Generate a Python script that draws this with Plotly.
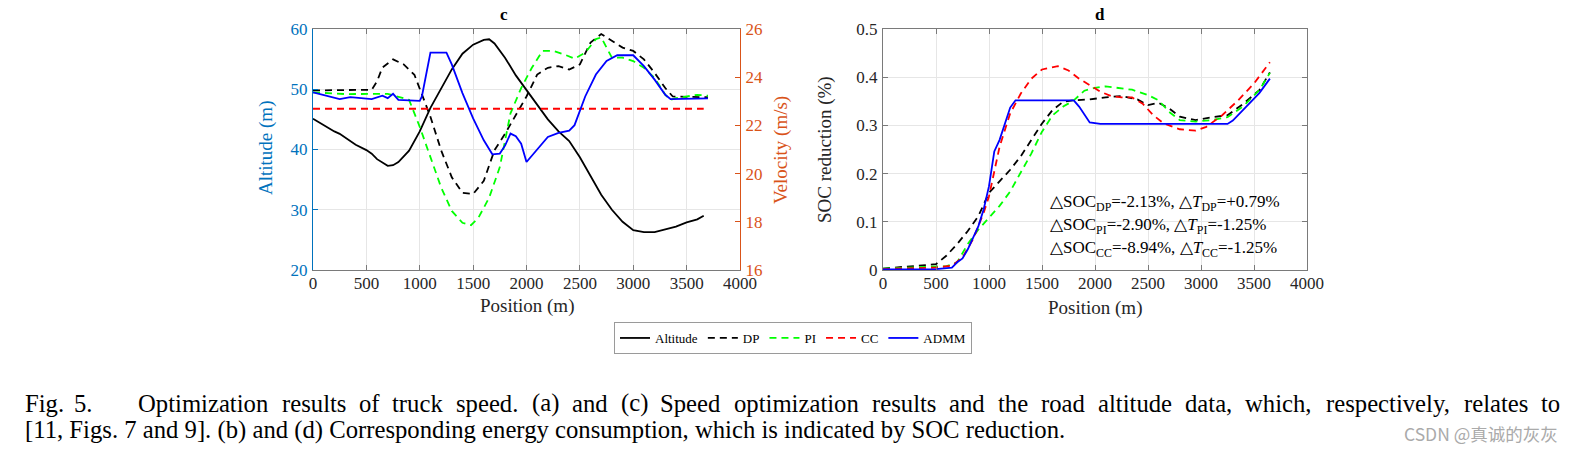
import plotly.graph_objects as go

W, H = 1583, 453

# ---------------- data: panel c ----------------
alt_pos = [0, 100, 200, 250, 300, 400, 500, 550, 600, 650, 700, 750, 800, 900, 1000, 1100, 1200, 1300,
           1400, 1500, 1600, 1650, 1700, 1800, 1900, 2000, 2100, 2200, 2300, 2400, 2500, 2600, 2700,
           2800, 2900, 3000, 3100, 3200, 3300, 3400, 3500, 3600, 3660]
alt_val = [45.1, 44.0, 43.0, 42.6, 42.0, 40.8, 39.9, 39.3, 38.4, 37.8, 37.3, 37.4, 37.9, 39.8, 43.0, 46.9,
           50.2, 53.3, 55.9, 57.4, 58.2, 58.3, 57.6, 55.2, 52.3, 49.8, 47.3, 45.0, 43.0, 41.4, 38.7, 35.5,
           32.5, 30.0, 28.0, 26.6, 26.3, 26.3, 26.7, 27.2, 27.9, 28.4, 29.0]

dp_pos = [0, 550, 600, 650, 750, 850, 950, 1000, 1100, 1200, 1300, 1400, 1500, 1600, 1700, 1800, 1900,
          2000, 2100, 2200, 2300, 2400, 2500, 2600, 2700, 2800, 2900, 3000, 3100, 3200, 3300, 3370, 3700]
dp_vel = [23.45, 23.48, 23.83, 24.4, 24.74, 24.53, 24.1, 23.5, 22.36, 20.97, 19.85, 19.2, 19.15, 19.7,
          20.97, 21.66, 22.43, 23.2, 24.11, 24.39, 24.46, 24.32, 24.53, 25.44, 25.79, 25.51, 25.23, 25.09,
          24.74, 24.18, 23.55, 23.2, 23.17]

pi_pos = [0, 300, 700, 800, 900, 1000, 1100, 1200, 1300, 1400, 1480, 1550, 1650, 1750, 1850, 1950, 2050,
          2150, 2250, 2350, 2450, 2550, 2650, 2700, 2800, 2900, 3000, 3100, 3200, 3300, 3350, 3400, 3600, 3700]
pi_vel = [23.37, 23.3, 23.31, 23.17, 23.06, 21.94, 20.69, 19.43, 18.45, 17.96, 17.86, 18.17, 19.0, 20.27,
          22.5, 23.55, 24.39, 25.09, 25.09, 24.95, 24.77, 25.02, 25.58, 25.65, 24.81, 24.81, 24.67, 24.39,
          23.97, 23.27, 23.06, 23.13, 23.27, 23.23]

cc_pos = [0, 3660]
cc_vel = [22.69, 22.69]

admm_pos = [0, 250, 350, 550, 650, 700, 750, 800, 1000, 1020, 1100, 1250, 1300, 1400, 1500, 1600, 1680,
            1750, 1800, 1850, 1900, 1950, 2000, 2100, 2200, 2300, 2400, 2450, 2550, 2650, 2750, 2850, 3000,
            3100, 3200, 3300, 3350, 3700]
admm_vel = [23.37, 23.09, 23.17, 23.09, 23.23, 23.13, 23.31, 23.06, 23.02, 23.2, 25.02, 25.02, 24.53, 23.34,
            22.29, 21.38, 20.8, 20.83, 21.17, 21.66, 21.55, 21.24, 20.48, 21.0, 21.52, 21.69, 21.78, 22.01,
            23.2, 24.11, 24.67, 24.91, 24.91, 24.46, 23.9, 23.27, 23.09, 23.12]

# ---------------- data: panel d ----------------
soc_admm_pos = [0, 500, 650, 700, 750, 800, 900, 950, 1000, 1050, 1100, 1150, 1200, 1250, 1800, 1850, 1950,
                2050, 3250, 3300, 3450, 3550, 3650]
soc_admm = [0.001, 0.002, 0.005, 0.016, 0.024, 0.043, 0.091, 0.126, 0.174, 0.246, 0.27, 0.304, 0.337, 0.352,
            0.352, 0.339, 0.306, 0.303, 0.303, 0.31, 0.345, 0.367, 0.397]

soc_cc_pos = [0, 500, 650, 750, 850, 950, 1000, 1050, 1100, 1200, 1300, 1400, 1500, 1650, 1750, 1850, 1950,
              2050, 2150, 2250, 2350, 2450, 2550, 2650, 2800, 2950, 3050, 3200, 3350, 3500, 3650]
soc_cc = [0.002, 0.005, 0.009, 0.026, 0.064, 0.119, 0.153, 0.208, 0.256, 0.325, 0.366, 0.397, 0.416, 0.423,
          0.414, 0.397, 0.383, 0.37, 0.361, 0.358, 0.358, 0.345, 0.321, 0.304, 0.292, 0.289, 0.297, 0.321,
          0.352, 0.387, 0.431]

soc_dp_pos = [0, 300, 500, 600, 700, 800, 900, 1000, 1100, 1200, 1300, 1400, 1500, 1600, 1700, 1800, 1950,
              2100, 2250, 2400, 2500, 2600, 2700, 2800, 2950, 3100, 3250, 3400, 3550, 3650]
soc_dp = [0.003, 0.008, 0.012, 0.03, 0.054, 0.081, 0.112, 0.16, 0.184, 0.208, 0.236, 0.27, 0.304, 0.332,
          0.349, 0.352, 0.354, 0.358, 0.361, 0.354, 0.342, 0.347, 0.335, 0.318, 0.311, 0.317, 0.321, 0.345,
          0.373, 0.41]

soc_pi_pos = [0, 600, 700, 800, 900, 1000, 1100, 1200, 1300, 1400, 1500, 1600, 1700, 1800, 1900, 2000, 2100,
              2200, 2350, 2500, 2600, 2700, 2800, 2950, 3100, 3250, 3400, 3550, 3650]
soc_pi = [0.003, 0.008, 0.016, 0.054, 0.084, 0.109, 0.133, 0.163, 0.201, 0.242, 0.287, 0.321, 0.339, 0.352,
          0.372, 0.378, 0.381, 0.378, 0.374, 0.363, 0.352, 0.328, 0.311, 0.308, 0.311, 0.317, 0.34, 0.373,
          0.409]

soc_notes = [
    "△SOC<sub>DP</sub>=-2.13%, △<i>T</i><sub>DP</sub>=+0.79%",
    "△SOC<sub>PI</sub>=-2.90%, △<i>T</i><sub>PI</sub>=-1.25%",
    "△SOC<sub>CC</sub>=-8.94%, △<i>T</i><sub>CC</sub>=-1.25%",
]

caption_lead = ["Fig.", "5."]
caption_line1 = ("Optimization results of truck speed. (a) and (c) Speed optimization results and the road "
                 "altitude data, which, respectively, relates to")
caption_line2 = "[11, Figs. 7 and 9]. (b) and (d) Corresponding energy consumption, which is indicated by SOC reduction."

# ---------------- styling ----------------
SERIF = "Liberation Serif, Times New Roman, serif"
BLUE_AX = "#0072BD"
ORANGE_AX = "#D95319"
GRID = "#e6e6e6"
FRAME = "#7a7a7a"
DASH = "7px,5px"
LW = 1.8
CAP_SIZE = 24.7

# Times / Liberation Serif advance widths (1/1000 em), used to justify the caption's first line
TIMES_W = {" ": 250, ",": 250, ".": 250, "(": 333, ")": 333, "[": 333, "]": 333, "-": 333,
           "O": 722, "S": 556, "F": 556,
           "a": 444, "b": 500, "c": 444, "d": 500, "e": 444, "f": 333, "g": 500, "h": 500, "i": 278,
           "k": 500, "l": 278, "m": 778, "n": 500, "o": 500, "p": 500, "r": 333, "s": 389, "t": 278,
           "u": 500, "v": 500, "w": 722, "y": 500, "z": 444}

def text_width(s, size):
    return sum(TIMES_W.get(ch, 500) for ch in s) * size / 1000.0

def px(x):
    return x / W

def py(y):
    return 1 - y / H

fig = go.Figure()

# panel c
fig.add_trace(go.Scatter(x=alt_pos, y=alt_val, mode="lines", name="Altitude",
                         line=dict(color="black", width=LW), xaxis="x", yaxis="y"))
fig.add_trace(go.Scatter(x=dp_pos, y=dp_vel, mode="lines", name="DP",
                         line=dict(color="black", width=LW, dash=DASH), xaxis="x", yaxis="y2"))
fig.add_trace(go.Scatter(x=pi_pos, y=pi_vel, mode="lines", name="PI",
                         line=dict(color="#00ff00", width=LW, dash=DASH), xaxis="x", yaxis="y2"))
fig.add_trace(go.Scatter(x=cc_pos, y=cc_vel, mode="lines", name="CC",
                         line=dict(color="#ff0000", width=LW, dash=DASH), xaxis="x", yaxis="y2"))
fig.add_trace(go.Scatter(x=admm_pos, y=admm_vel, mode="lines", name="ADMM",
                         line=dict(color="#0000ff", width=LW), xaxis="x", yaxis="y2"))

# panel d
fig.add_trace(go.Scatter(x=soc_dp_pos, y=soc_dp, mode="lines", showlegend=False,
                         line=dict(color="black", width=LW, dash=DASH), xaxis="x2", yaxis="y3"))
fig.add_trace(go.Scatter(x=soc_pi_pos, y=soc_pi, mode="lines", showlegend=False,
                         line=dict(color="#00ff00", width=LW, dash=DASH), xaxis="x2", yaxis="y3"))
fig.add_trace(go.Scatter(x=soc_cc_pos, y=soc_cc, mode="lines", showlegend=False,
                         line=dict(color="#ff0000", width=LW, dash=DASH), xaxis="x2", yaxis="y3"))
fig.add_trace(go.Scatter(x=soc_admm_pos, y=soc_admm, mode="lines", showlegend=False,
                         line=dict(color="#0000ff", width=LW), xaxis="x2", yaxis="y3"))

tickfont = dict(family=SERIF, size=17, color="#262626")
ydom = [py(270), py(29)]

xcommon = dict(range=[0, 4000], dtick=500, tick0=0, showgrid=True, gridcolor=GRID, zeroline=False,
               ticks="inside", ticklen=5, showline=True, linecolor=FRAME, mirror="ticks",
               tickcolor=FRAME, tickfont=tickfont, ticklabelstandoff=-2, automargin=False)

fig.update_layout(
    width=W, height=H, margin=dict(l=0, r=0, t=0, b=0, pad=0, autoexpand=False),
    paper_bgcolor="white", plot_bgcolor="white",
    font=dict(family=SERIF, color="black"),
    xaxis=dict(domain=[px(313), px(740)], anchor="y", **xcommon),
    yaxis=dict(domain=ydom, anchor="x", range=[20, 60], dtick=10, showgrid=True, gridcolor=GRID,
               zeroline=False, ticks="inside", ticklen=5, showline=True, linecolor=BLUE_AX,
               tickcolor=BLUE_AX, tickfont=dict(family=SERIF, size=17, color=BLUE_AX),
               ticklabelstandoff=1, automargin=False),
    yaxis2=dict(domain=ydom, anchor="x", overlaying="y", side="right", range=[16, 26], dtick=2,
                showgrid=False, zeroline=False, ticks="inside", ticklen=5, showline=True,
                linecolor=ORANGE_AX, tickcolor=ORANGE_AX,
                tickfont=dict(family=SERIF, size=17, color=ORANGE_AX), ticklabelstandoff=1,
                automargin=False),
    xaxis2=dict(domain=[px(883), px(1307)], anchor="y3", **xcommon),
    yaxis3=dict(domain=ydom, anchor="x2", range=[0, 0.5], dtick=0.1, tickformat=".1~f",
                showgrid=True, gridcolor=GRID, zeroline=False, ticks="inside", ticklen=5,
                showline=True, linecolor=FRAME, mirror="ticks", tickcolor=FRAME, tickfont=tickfont,
                ticklabelstandoff=1, automargin=False),
    legend=dict(orientation="h", x=px(793), xanchor="center", y=py(338), yanchor="middle",
                bordercolor="#9a9a9a", borderwidth=1, bgcolor="white", itemwidth=30,
                font=dict(family=SERIF, size=13, color="black"), tracegroupgap=0),
)

annotations = []

def ann(text, x, y, size, color="black", angle=0, xa="center", ya="middle", family=SERIF):
    annotations.append(dict(text=text, x=px(x), y=py(y), xref="paper", yref="paper",
                            xanchor=xa, yanchor=ya, textangle=angle, showarrow=False,
                            font=dict(family=family, size=size, color=color)))

# titles
ann("<b>c</b>", 504, 14, 17)
ann("<b>d</b>", 1100, 15, 17)
# axis titles
ann("Altitude (m)", 266, 148, 19, BLUE_AX, -90)
ann("Velocity (m/s)", 781, 150, 19, ORANGE_AX, -90)
ann("Position (m)", 527, 306, 19, "#262626")
ann("Position (m)", 1095, 308, 19, "#262626")
ann("SOC reduction (%)", 825, 150, 19, "#262626", -90)
# notes in panel d
for i, note in enumerate(soc_notes):
    ann(note, 1048, 203 + 23 * i, 17, xa="left")

# caption: "Fig. 5." lead, then a justified first line
ann(caption_lead[0], 23, 403, CAP_SIZE, xa="left")
ann(caption_lead[1], 72, 403, CAP_SIZE, xa="left")
words = caption_line1.split(" ")
x_start, x_end = 138.0, 1560.0
total_w = sum(text_width(w_, CAP_SIZE) for w_ in words)
gap = (x_end - x_start - total_w) / (len(words) - 1)
cur = x_start
for w_ in words:
    ww = text_width(w_, CAP_SIZE)
    ann(w_, cur + ww / 2, 403, CAP_SIZE)
    cur += ww + gap
ann(caption_line2, 23, 430, CAP_SIZE, xa="left")
ann("CSDN @真诚的灰灰", 1481, 433, 17.5, "#aaaaaa", family="Noto Sans CJK SC, sans-serif")

fig.update_layout(annotations=annotations)

fig.write_html("out.html", config={"displayModeBar": False},
               post_script="document.body.style.margin='0';")
